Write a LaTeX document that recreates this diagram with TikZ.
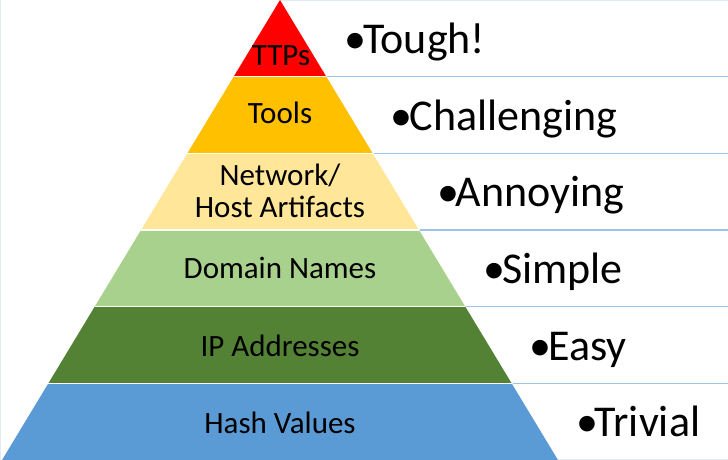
\documentclass[tikz,border=0pt]{standalone}
\usepackage{fontspec}
\setmainfont{Carlito}

\definecolor{ttpred}{HTML}{FF0000}
\definecolor{toolgold}{HTML}{FFC000}
\definecolor{artitan}{HTML}{FFE699}
\definecolor{domgreen}{HTML}{A9D18E}
\definecolor{ipgreen}{HTML}{548235}
\definecolor{hashblue}{HTML}{5B9BD5}
\definecolor{rowline}{HTML}{9DC3E6}
\definecolor{frameline}{HTML}{E4EAF2}

\begin{document}
\begin{tikzpicture}[x=1pt, y=-1pt,
    level/.style={font=\fontsize{31}{32}\selectfont, inner sep=0pt, anchor=base, align=center},
    effort/.style={font=\fontsize{44}{48}\selectfont, inner sep=0pt, anchor=base west},
    rowsep/.style={draw=rowline, line width=1.5pt}]
  \useasboundingbox (0,0) rectangle (728,460);
  %% faint frame of the table
  \draw[frameline, line width=1pt] (280,0.5) -- (728,0.5);
  \draw[frameline, line width=1pt] (0.5,0) -- (0.5,460);
  \draw[frameline, line width=1pt] (558,459.5) -- (728,459.5);

  %% six bands, each 460/6 high; the half width grows 0.6043 per unit of depth
  \foreach \col [count=\i] in {ttpred,toolgold,artitan,domgreen,ipgreen,hashblue} {
    \pgfmathsetmacro{\ya}{(\i-1)*460/6}
    \pgfmathsetmacro{\yb}{\i*460/6}
    \fill[\col] ({280-0.6043*\ya},\ya) -- ({280+0.6043*\ya},\ya)
      -- ({280+0.6043*\yb},\yb) -- ({280-0.6043*\yb},\yb) -- cycle;
  }
  %% white gaps between bands and blue row lines on the right
  \foreach \i in {1,...,5} {
    \pgfmathsetmacro{\yb}{\i*460/6}
    \draw[white, line width=1.5pt] ({280-0.6043*\yb},\yb) -- ({280+0.6043*\yb},\yb);
    \draw[rowsep] ({281+0.6043*\yb},\yb) -- (728,\yb);
  }

  %% labels in the pyramid
  \node[level] (ttps) at (281,66) {TTPs};
  \node[level] (tools) at (280,123) {Tools};
  \node[level] (artifacts) at (280,217) {Network/\\Host Artifacts};
  \node[level] (domains) at (280,278) {Domain Names};
  \node[level] (ips) at (280,356) {IP Addresses};
  \node[level] (hashes) at (280,433) {Hash Values};

  %% pain levels on the right
  \foreach \txt [count=\i] in {Tough!,Challenging,Annoying,Simple,Easy,Trivial} {
    \pgfmathsetmacro{\yc}{(\i-0.5)*460/6}
    \node[effort] (pain\i) at ({280+0.6043*\yc+41},{\yc+15}) {•\kern-3pt\txt};
  }
\end{tikzpicture}
\end{document}
